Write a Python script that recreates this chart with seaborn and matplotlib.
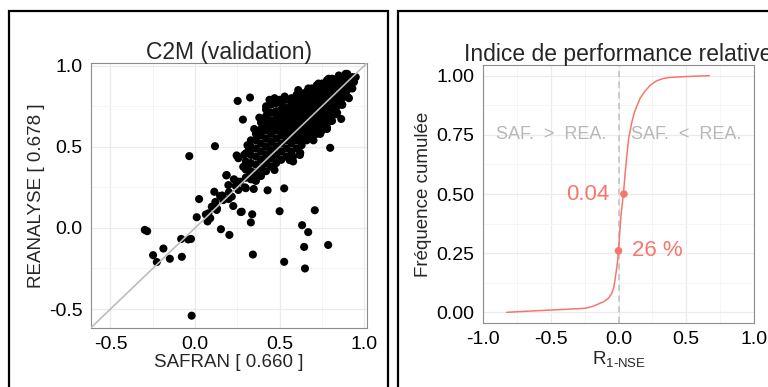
import matplotlib
matplotlib.use("Agg")
import matplotlib.pyplot as plt
import seaborn as sns
import pandas as pd
from matplotlib.patches import Rectangle
from matplotlib.ticker import MultipleLocator

# --- Données : nuage C2M (validation) ---

# points isolés (SAFRAN, REANALYSE)
safran_isoles = [-0.034, 0.118, 0.252, 0.325, 0.283, 0.409, 0.246, 0.256, 0.319, 0.799,
                 0.864, 0.80, 0.622, 0.527, 0.429, 0.347, 0.30, 0.50, 0.708, 0.338,
                 0.33, 0.27, 0.633, 0.669, 0.645, 0.787, 0.342, 0.527, 0.65, -0.02,
                 0.153, 0.203, -0.297, -0.283, -0.248, -0.226, -0.187, -0.149, -0.078, -0.082,
                 -0.04, -0.024, 0.01, 0.024, 0.064, 0.074, 0.09, 0.12, 0.148, 0.114,
                 0.185, 0.199, 0.226, 0.252, 0.099, 0.13, 0.079, 0.34, 0.354, 0.295,
                 0.187, 0.197, 0.266, 0.256, 0.217, 0.167, 0.128, 0.276, 0.325, 0.305,
                 0.285, 0.24, 0.20, 0.16, 0.23, 0.403, 0.56, 0.58]
reanalyse_isoles = [0.443, 0.504, 0.783, 0.804, 0.668, 0.652, 0.447, 0.43, 0.486, 0.494,
                    0.672, 0.66, 0.463, 0.244, 0.232, 0.24, 0.245, 0.103, 0.109, 0.084,
                    0.034, 0.098, 0.017, -0.026, -0.117, -0.105, -0.164, -0.209, -0.25, -0.541,
                    -0.008, -0.043, -0.012, -0.02, -0.168, -0.21, -0.127, -0.19, -0.178, -0.068,
                    -0.071, -0.068, 0.066, 0.178, 0.083, 0.04, 0.06, 0.16, 0.197, 0.223,
                    0.324, 0.178, 0.135, 0.285, 0.131, 0.12, 0.09, 0.49, 0.295, 0.25,
                    0.326, 0.264, 0.285, 0.234, 0.193, 0.172, 0.111, 0.10, 0.336, 0.377,
                    0.377, 0.26, 0.22, 0.20, 0.30, 0.654, 0.418, 0.44]

# coeur du nuage, par colonnes de SAFRAN
safran_colonnes = [0.30, 0.33, 0.36, 0.39, 0.42, 0.45, 0.48, 0.51, 0.54, 0.57,
                   0.60, 0.63, 0.66, 0.69, 0.72, 0.75, 0.78, 0.81, 0.84, 0.87,
                   0.90, 0.93]
reanalyse_colonnes = [
    [0.31, 0.36, 0.41, 0.46],
    [0.30, 0.35, 0.40, 0.45, 0.50, 0.54],
    [0.29, 0.34, 0.39, 0.44, 0.49, 0.54, 0.58],
    [0.32, 0.37, 0.42, 0.47, 0.52, 0.57, 0.61, 0.65],
    [0.35, 0.40, 0.45, 0.50, 0.55, 0.60, 0.64, 0.69, 0.73],
    [0.38, 0.43, 0.48, 0.53, 0.58, 0.62, 0.66, 0.71, 0.76],
    [0.40, 0.45, 0.50, 0.55, 0.60, 0.64, 0.68, 0.72, 0.77],
    [0.42, 0.47, 0.52, 0.57, 0.61, 0.65, 0.69, 0.73, 0.77],
    [0.44, 0.49, 0.54, 0.58, 0.62, 0.66, 0.70, 0.74, 0.79],
    [0.47, 0.52, 0.56, 0.60, 0.64, 0.68, 0.72, 0.76, 0.80],
    [0.49, 0.54, 0.58, 0.62, 0.66, 0.70, 0.74, 0.78, 0.82],
    [0.51, 0.55, 0.59, 0.63, 0.67, 0.71, 0.75, 0.79, 0.83],
    [0.54, 0.58, 0.62, 0.66, 0.69, 0.73, 0.77, 0.81, 0.84],
    [0.56, 0.60, 0.64, 0.68, 0.72, 0.76, 0.80, 0.83, 0.86],
    [0.58, 0.62, 0.66, 0.70, 0.74, 0.78, 0.82, 0.85, 0.88],
    [0.60, 0.64, 0.68, 0.72, 0.76, 0.80, 0.84, 0.87, 0.89],
    [0.62, 0.66, 0.70, 0.74, 0.78, 0.82, 0.86, 0.89, 0.91],
    [0.66, 0.70, 0.74, 0.78, 0.82, 0.86, 0.89, 0.92],
    [0.71, 0.75, 0.79, 0.83, 0.87, 0.90, 0.92],
    [0.76, 0.80, 0.84, 0.88, 0.91, 0.93],
    [0.81, 0.85, 0.88, 0.92, 0.95],
    [0.86, 0.90, 0.93],
]

# bords irréguliers du nuage
safran_bords = [0.44, 0.47, 0.50, 0.38, 0.35, 0.31, 0.29, 0.47, 0.58, 0.62,
                0.70, 0.74, 0.78, 0.83, 0.87, 0.91, 0.95, 0.94, 0.61,
                0.67, 0.73, 0.79, 0.85, 0.89, 0.53, 0.42, 0.44]
reanalyse_bords = [0.79, 0.80, 0.79, 0.68, 0.61, 0.51, 0.45, 0.357, 0.41, 0.45,
                   0.54, 0.58, 0.61, 0.70, 0.76, 0.80, 0.93, 0.90, 0.85,
                   0.86, 0.89, 0.92, 0.94, 0.95, 0.81, 0.75, 0.71]

# --- Données : indice de performance relative (fréquence cumulée) ---
r_nse = [-0.825, -0.70, -0.49, -0.35, -0.247, -0.19, -0.149, -0.11, -0.075, -0.05,
         -0.035, -0.026, -0.015, -0.006, 0.0, 0.008, 0.02, 0.036, 0.048, 0.06,
         0.075, 0.097, 0.115, 0.134, 0.16, 0.196, 0.235, 0.28, 0.33, 0.37, 0.49, 0.67]
freq_cumulee = [0.0, 0.004, 0.01, 0.014, 0.017, 0.025, 0.035, 0.045, 0.059, 0.08,
                0.105, 0.136, 0.18, 0.22, 0.26, 0.33, 0.42, 0.50, 0.58, 0.655,
                0.735, 0.80, 0.84, 0.87, 0.905, 0.935, 0.96, 0.978, 0.988, 0.992, 0.996, 1.0]
mediane = 0.04
part_sous_zero = 0.26

# --- Construction du tableau ---
nuage_x = list(safran_isoles) + list(safran_bords)
nuage_y = list(reanalyse_isoles) + list(reanalyse_bords)
for xv, ys in zip(safran_colonnes, reanalyse_colonnes):
    nuage_x += [xv] * len(ys)
    nuage_y += ys
df_nuage = pd.DataFrame({'SAFRAN': nuage_x, 'REANALYSE': nuage_y})
df_cdf = pd.DataFrame({'R': r_nse, 'F': freq_cumulee})

# --- Style ---
sns.set_style("white")
plt.rcParams['font.family'] = ['Liberation Sans', 'DejaVu Sans']
plt.rcParams['mathtext.fontset'] = 'custom'
plt.rcParams['mathtext.rm'] = 'Liberation Sans'
plt.rcParams['axes.unicode_minus'] = False

rouge = '#F8766D'
gris_texte = '#b8b8b8'

fig = plt.figure(figsize=(7.68, 3.87), dpi=100)
ax1 = fig.add_axes([0.1185, 0.1533, 0.359, 0.6831])
ax2 = fig.add_axes([0.6289, 0.1654, 0.3529, 0.6666])


def habiller(ax):
    ax.set_axisbelow(True)
    ax.grid(True, which='major', color='#ebebeb', lw=0.9)
    ax.grid(True, which='minor', color='#f4f4f4', lw=0.6)
    for s in ax.spines.values():
        s.set_color('#8c8c8c')
        s.set_linewidth(0.8)
    ax.tick_params(which='major', direction='out', length=4, width=0.8,
                   color='#333333', labelsize=14, labelcolor='black', pad=2)
    ax.tick_params(which='minor', length=0)


# --- Graphique nuage ---
sns.scatterplot(data=df_nuage, x='SAFRAN', y='REANALYSE', color='black',
                s=34, edgecolor='none', ax=ax1, zorder=3)
ax1.axline((0, 0), slope=1, color='#bdbdbd', lw=1.2, zorder=4)
ax1.set_xlim(-0.615, 1.015)
ax1.set_ylim(-0.615, 1.015)
ax1.xaxis.set_major_locator(MultipleLocator(0.5))
ax1.yaxis.set_major_locator(MultipleLocator(0.5))
ax1.xaxis.set_minor_locator(MultipleLocator(0.25))
ax1.yaxis.set_minor_locator(MultipleLocator(0.25))
habiller(ax1)
ax1.set_title('C2M (validation)', fontsize=16.5, pad=3)
ax1.set_xlabel('SAFRAN [ 0.660 ]', fontsize=13.5, labelpad=1)
ax1.set_ylabel('REANALYSE [ 0.678 ]', fontsize=13.5, labelpad=3)

# --- Graphique fréquence cumulée ---
sns.lineplot(data=df_cdf, x='R', y='F', color=rouge, lw=1.1, sort=False,
             ax=ax2, zorder=3)
ax2.axvline(0, color='#bfbfbf', lw=1.1, ls=(0, (4, 3)), zorder=2)
sns.scatterplot(x=[0.0, mediane], y=[part_sous_zero, 0.5], color=rouge,
                s=30, edgecolor='none', ax=ax2, zorder=4)
ax2.text(-0.07, 0.5, f'{mediane:.2f}', color=rouge, fontsize=16,
         ha='right', va='center')
ax2.text(0.1, part_sous_zero, f'{part_sous_zero * 100:.0f} %', color=rouge,
         fontsize=16, ha='left', va='center')
ax2.text(-0.5, 0.75, 'SAF.  >  REA.', color=gris_texte, fontsize=13,
         ha='center', va='center')
ax2.text(0.5, 0.75, 'SAF.  <  REA.', color=gris_texte, fontsize=13,
         ha='center', va='center')
ax2.set_xlim(-1, 1)
ax2.set_ylim(-0.045, 1.045)
ax2.xaxis.set_major_locator(MultipleLocator(0.5))
ax2.yaxis.set_major_locator(MultipleLocator(0.25))
ax2.xaxis.set_minor_locator(MultipleLocator(0.25))
ax2.yaxis.set_minor_locator(MultipleLocator(0.125))
habiller(ax2)
ax2.yaxis.set_major_formatter(plt.FuncFormatter(lambda v, p: f'{v:.2f}'))
ax2.xaxis.set_major_formatter(plt.FuncFormatter(lambda v, p: f'{v:.1f}'))
ax2.set_title('Indice de performance relative', fontsize=16.5, pad=3)
ax2.set_xlabel(r'R$_{\mathregular{1\text{-}NSE}}$', fontsize=13.5, labelpad=1)
ax2.set_ylabel('Fréquence cumulée', fontsize=13.5, labelpad=3)

# --- Cadres des panneaux ---
fig.add_artist(Rectangle((9 / 768, -0.05), 379 / 768, 1.05 - 11 / 387,
                         transform=fig.transFigure, fill=False, ec='black', lw=1.6))
fig.add_artist(Rectangle((398 / 768, -0.05), 0.6, 1.05 - 11 / 387,
                         transform=fig.transFigure, fill=False, ec='black', lw=1.6))

plt.savefig('out.png', dpi=100)
plt.close()
